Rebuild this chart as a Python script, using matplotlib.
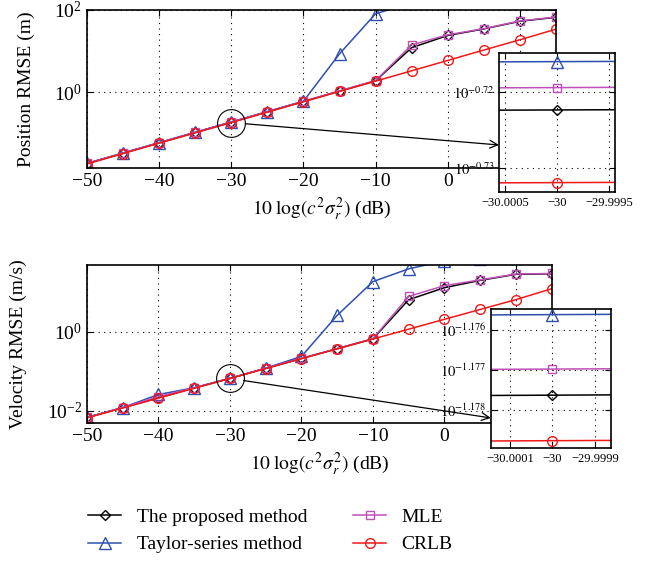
import matplotlib
matplotlib.use("Agg")
import matplotlib.pyplot as plt

plt.rcParams['font.family'] = ['Liberation Serif', 'DejaVu Serif']
plt.rcParams['mathtext.fontset'] = 'stix'
plt.rcParams['axes.unicode_minus'] = True

# Datos
snr = [-50, -45, -40, -35, -30, -25, -20, -15, -10, -5, 0, 5, 10, 15]

pos_prop = [0.0190, 0.0338, 0.0601, 0.1069, 0.189527, 0.338, 0.601, 1.07, 1.90, 12.0, 23.6, 34.0, 52.0, 65.0]
pos_taylor = [0.0192, 0.0342, 0.0609, 0.1082, 0.192322, 0.342, 0.609, 8.5, 79.0, 145.0, 170.0, 200.0, 220.0, 240.0]
pos_mle = [0.0191, 0.0340, 0.0605, 0.1076, 0.190815, 0.340, 0.605, 1.08, 1.92, 14.0, 24.5, 34.5, 53.0, 66.0]
pos_crlb = [0.0186, 0.0331, 0.0589, 0.1047, 0.185401, 0.331, 0.589, 1.047, 1.86, 3.31, 5.89, 10.5, 18.6, 33.5]

vel_prop = [0.0068, 0.0121, 0.0215, 0.0382, 0.066431, 0.120, 0.213, 0.378, 0.670, 6.6, 13.3, 20.4, 29.0, 30.0]
vel_taylor = [0.0068, 0.0121, 0.026, 0.0385, 0.06674, 0.121, 0.24, 2.65, 19.0, 40.0, 64.0, 70.0, 75.0, 80.0]
vel_mle = [0.0068, 0.0121, 0.023, 0.0385, 0.066531, 0.121, 0.215, 0.38, 0.68, 8.0, 15.0, 21.0, 29.5, 30.5]
vel_crlb = [0.00664, 0.0118, 0.0210, 0.0373, 0.066257, 0.118, 0.210, 0.373, 0.663, 1.18, 2.10, 3.73, 6.63, 12.5]

nombres = ['The proposed method', 'Taylor-series method', 'MLE', 'CRLB']
colores = ['black', '#2f4fb0', '#c050b8', '#f21818']
marcas = ['D', '^', 's', 'o']
tamanos = [5.5, 8, 6, 7]

grid_style = dict(color='black', linestyle=(0, (1, 4)), linewidth=0.8)


def dibujar(ax, series):
    for y, c, m, s, n in zip(series, colores, marcas, tamanos, nombres):
        ax.plot(snr, y, color=c, marker=m, markersize=s, markerfacecolor='none',
                markeredgecolor=c, linewidth=1.1, label=n)


def estilo(ax, fs):
    ax.set_yscale('log')
    ax.minorticks_off()
    ax.tick_params(direction='in', top=True, right=True, labelsize=fs, length=4)
    ax.grid(True, **grid_style)
    for sp in ax.spines.values():
        sp.set_linewidth(1.2)


etiqueta_x = r'$10\;\log(c^2\sigma_r^2)$ (dB)'

fig = plt.figure(figsize=(6.55, 5.61), dpi=100)

# Grafico de posicion
ax1 = fig.add_axes([0.1328, 0.7005, 0.716, 0.2825])
dibujar(ax1, [pos_prop, pos_taylor, pos_mle, pos_crlb])
estilo(ax1, 14)
ax1.set_xlim(-50, 15)
ax1.set_ylim(0.0148, 100)
ax1.set_xticks([-50, -40, -30, -20, -10, 0, 10])
ax1.set_yticks([1, 100])
ax1.set_ylabel('Position RMSE (m)', fontsize=14)
ax1.yaxis.set_label_coords(-0.111, 0.5)
ax1.set_xlabel(etiqueta_x, fontsize=14)
ax1.plot([-30], [pos_crlb[4]], marker='o', markersize=20, markerfacecolor='none',
         markeredgecolor='black', markeredgewidth=0.8)

# Grafico de velocidad
ax2 = fig.add_axes([0.1328, 0.2465, 0.7095, 0.2811])
dibujar(ax2, [vel_prop, vel_taylor, vel_mle, vel_crlb])
estilo(ax2, 14)
ax2.set_xlim(-50, 15)
ax2.set_ylim(0.005, 50)
ax2.set_xticks([-50, -40, -30, -20, -10, 0, 10])
ax2.set_yticks([0.01, 1])
ax2.set_ylabel('Velocity RMSE (m/s)', fontsize=14)
ax2.yaxis.set_label_coords(-0.129, 0.5)
ax2.set_xlabel(etiqueta_x, fontsize=14)
ax2.plot([-30], [vel_crlb[4]], marker='o', markersize=20, markerfacecolor='none',
         markeredgecolor='black', markeredgewidth=0.8)

# Zoom de posicion
in1 = fig.add_axes([0.7618, 0.6578, 0.1771, 0.2478], zorder=5)
dibujar(in1, [pos_prop, pos_taylor, pos_mle, pos_crlb])
estilo(in1, 9)
in1.set_xlim(-30.00056, -29.99944)
in1.set_ylim(10 ** -0.73312, 10 ** -0.71483)
in1.set_xticks([-30.0005, -30, -29.9995])
in1.set_xticklabels(['\u221230.0005', '\u221230', '\u221229.9995'])
in1.set_yticks([10 ** -0.73, 10 ** -0.72])
in1.set_yticklabels([r'$10^{-0.73}$', r'$10^{-0.72}$'])
in1.tick_params(axis='y', pad=3, labelsize=10.5)

# Zoom de velocidad
in2 = fig.add_axes([0.7492, 0.2020, 0.1832, 0.2467], zorder=5)
dibujar(in2, [vel_prop, vel_taylor, vel_mle, vel_crlb])
estilo(in2, 9)
in2.set_xlim(-30.000145, -29.999863)
in2.set_ylim(10 ** -1.178943, 10 ** -1.17548)
in2.set_xticks([-30.0001, -30, -29.9999])
in2.set_xticklabels(['\u221230.0001', '\u221230', '\u221229.9999'])
in2.set_yticks([10 ** -1.178, 10 ** -1.177, 10 ** -1.176])
in2.set_yticklabels([r'$10^{-1.178}$', r'$10^{-1.177}$', r'$10^{-1.176}$'])
in2.tick_params(axis='y', pad=3, labelsize=10.5)

# Flechas hacia los zooms
ax1.annotate('', xy=(0, 0.338), xycoords=in1, xytext=(-30, pos_crlb[4]), textcoords='data',
             arrowprops=dict(arrowstyle='->', color='black', lw=0.9, shrinkA=10, shrinkB=0,
                             mutation_scale=14), annotation_clip=False, zorder=6)
ax2.annotate('', xy=(0, 0.215), xycoords=in2, xytext=(-30, vel_crlb[4]), textcoords='data',
             arrowprops=dict(arrowstyle='->', color='black', lw=0.9, shrinkA=10, shrinkB=0,
                             mutation_scale=14), annotation_clip=False, zorder=6)

# Leyenda
h, l = ax1.get_legend_handles_labels()
fig.legend(h, l, loc='center', bbox_to_anchor=(0.413, 1 - 531 / 561), ncol=2,
           frameon=False, fontsize=14, handlelength=1.7, handletextpad=0.8,
           columnspacing=2.35, labelspacing=0.5)

fig.savefig('out.png', dpi=100)
